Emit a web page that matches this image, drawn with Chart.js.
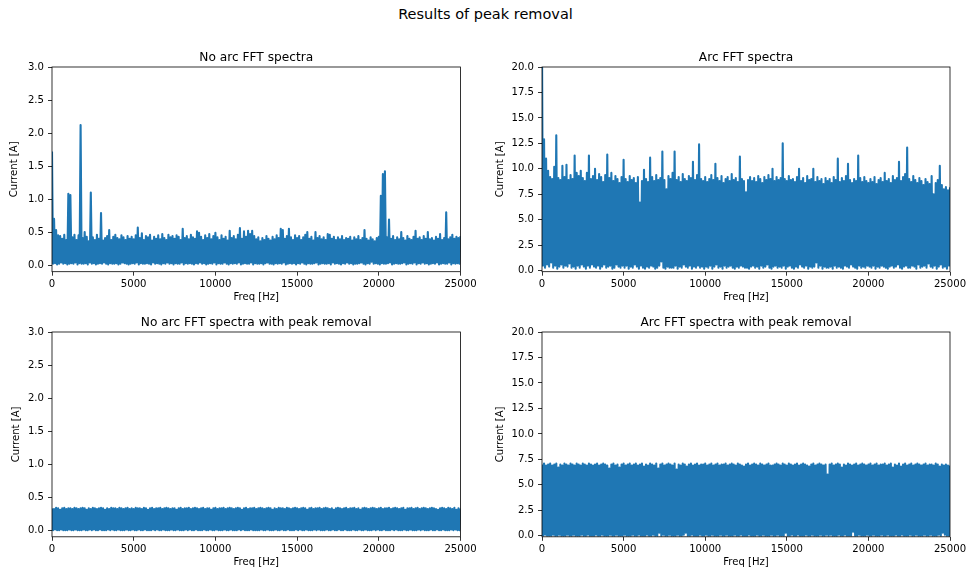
<!DOCTYPE html>
<html>
<head>
<meta charset="utf-8">
<title>Results of peak removal</title>
<script src="https://cdn.jsdelivr.net/npm/chart.js@4.4.1/dist/chart.umd.min.js"></script>
<style>
  html, body { margin:0; padding:0; overflow:hidden; background:#fff; }
  body { position:relative; width:971px; height:572px; font-family:"DejaVu Sans", sans-serif; }
  #suptitle { position:absolute; left:0; top:6px; width:971px; text-align:center; font-size:14.5px; color:#000; }
  canvas { position:absolute; }
</style>
</head>
<body>
<div id="suptitle">Results of peak removal</div>
<canvas id="c-noarc"></canvas>
<canvas id="c-arc"></canvas>
<canvas id="c-noarc-clean"></canvas>
<canvas id="c-arc-clean"></canvas>
<script>
// ═══════════════════════════════════════════════════════
//  FFT spectra before / after peak removal
// ═══════════════════════════════════════════════════════

const BIN_HZ = 125;                    // spacing of the spectrum bins
const X_TICKS = [0, 5000, 10000, 15000, 20000, 25000];
const Y_TICKS_NOARC = [0, 0.5, 1, 1.5, 2, 2.5, 3];
const Y_TICKS_ARC   = [0, 2.5, 5, 7.5, 10, 12.5, 15, 17.5, 20];

// Each bin: peak amplitude (…_TOP) and trough amplitude (…_BOTTOM)

// ── No arc, raw ─────────────────────────────────────────
const NOARC_TOP = [
  1.72,0.70,0.53,0.45,0.44,0.40,0.46,0.38,1.08,1.06,0.42,0.46,0.38,0.45,2.12,0.41,0.50,0.43,0.36,1.10,
  0.42,0.38,0.46,0.40,0.79,0.37,0.41,0.44,0.53,0.38,0.43,0.46,0.41,0.39,0.45,0.42,0.38,0.44,0.40,0.43,
  0.39,0.45,0.57,0.41,0.48,0.38,0.44,0.42,0.46,0.37,0.43,0.40,0.45,0.39,0.47,0.41,0.38,0.46,0.42,0.44,
  0.40,0.45,0.43,0.38,0.55,0.41,0.44,0.39,0.46,0.42,0.40,0.51,0.49,0.43,0.38,0.45,0.41,0.47,0.39,0.44,
  0.49,0.42,0.38,0.45,0.40,0.43,0.37,0.52,0.41,0.44,0.39,0.46,0.56,0.40,0.51,0.43,0.52,0.47,0.52,0.44,
  0.39,0.42,0.36,0.41,0.38,0.44,0.40,0.37,0.43,0.39,0.45,0.41,0.55,0.53,0.40,0.44,0.55,0.42,0.38,0.45,
  0.41,0.44,0.38,0.42,0.46,0.50,0.40,0.43,0.37,0.50,0.41,0.44,0.39,0.42,0.38,0.47,0.46,0.40,0.43,0.38,
  0.42,0.39,0.44,0.38,0.41,0.40,0.43,0.37,0.42,0.39,0.44,0.38,0.41,0.53,0.40,0.37,0.42,0.39,0.36,0.41,
  0.43,1.05,1.38,1.42,0.42,0.69,0.40,0.44,0.38,0.42,0.39,0.50,0.41,0.37,0.44,0.40,0.38,0.43,0.52,0.40,
  0.42,0.38,0.44,0.40,0.50,0.39,0.41,0.37,0.43,0.40,0.47,0.38,0.41,0.80,0.39,0.42,0.46,0.40,0.43,0.41,
  0.44
];
const NOARC_BOTTOM = [
  0.02,0.03,0.01,0.02,0.04,0.02,0.03,0.01,0.02,0.03,0.02,0.04,0.01,0.03,0.02,0.02,0.03,0.01,0.04,0.02,
  0.03,0.01,0.02,0.03,0.02,0.04,0.02,0.01,0.03,0.02,0.02,0.03,0.01,0.02,0.04,0.03,0.02,0.01,0.02,0.03,
  0.02,0.04,0.01,0.03,0.02,0.02,0.03,0.02,0.01,0.04,0.02,0.03,0.02,0.01,0.03,0.02,0.04,0.02,0.03,0.01,
  0.03,0.02,0.02,0.04,0.01,0.03,0.02,0.03,0.02,0.01,0.03,0.02,0.04,0.02,0.03,0.01,0.02,0.03,0.02,0.04,
  0.01,0.03,0.02,0.02,0.04,0.02,0.01,0.03,0.02,0.03,0.02,0.04,0.01,0.02,0.03,0.02,0.02,0.04,0.01,0.03,
  0.02,0.02,0.03,0.01,0.03,0.04,0.02,0.02,0.01,0.03,0.02,0.03,0.02,0.04,0.01,0.02,0.03,0.02,0.03,0.01,
  0.03,0.02,0.04,0.02,0.01,0.03,0.02,0.02,0.03,0.04,0.01,0.02,0.03,0.02,0.02,0.03,0.01,0.04,0.02,0.03,
  0.02,0.01,0.03,0.02,0.04,0.02,0.03,0.01,0.02,0.02,0.03,0.04,0.02,0.01,0.03,0.02,0.05,0.02,0.03,0.02,
  0.01,0.03,0.02,0.02,0.03,0.04,0.01,0.02,0.03,0.02,0.02,0.03,0.04,0.01,0.02,0.03,0.02,0.04,0.01,0.03,
  0.02,0.04,0.02,0.03,0.01,0.02,0.03,0.02,0.04,0.01,0.02,0.03,0.02,0.02,0.04,0.01,0.03,0.02,0.03,0.02
];

// ── Arc, raw ────────────────────────────────────────────
const ARC_TOP = [
  22.0,12.9,11.0,9.8,9.2,9.0,10.2,13.3,9.1,8.9,10.3,9.2,10.4,8.9,9.4,9.0,11.3,9.6,9.3,9.8,
  9.1,8.8,9.6,11.3,9.0,9.3,10.0,8.9,9.5,9.2,8.7,9.4,11.4,9.1,9.6,8.8,9.3,9.0,8.6,9.2,
  10.9,9.0,8.7,9.3,8.9,9.1,8.6,9.2,6.7,8.8,9.9,9.0,8.7,11.1,9.2,8.8,9.4,8.9,9.1,11.7,
  8.9,8.0,9.3,9.0,9.6,11.7,8.9,9.2,8.7,9.5,9.0,8.8,9.3,9.1,10.7,8.9,9.4,12.4,9.0,8.8,
  9.2,8.7,9.0,9.4,8.9,10.5,9.1,8.8,9.3,8.6,9.0,9.2,8.8,9.5,8.9,9.1,8.7,11.2,9.0,8.8,
  7.7,8.9,9.2,8.8,9.1,8.7,9.3,9.0,8.6,9.2,8.9,9.4,9.0,10.0,8.8,9.2,8.9,9.1,12.5,9.0,
  8.8,9.3,8.9,9.0,8.7,9.2,10.0,8.8,9.1,8.6,9.3,8.9,9.0,10.0,8.7,9.2,8.8,9.0,8.5,9.1,
  8.8,9.0,8.6,9.2,8.9,11.0,8.7,9.1,8.8,9.3,10.5,8.9,8.6,9.0,8.8,11.3,9.1,8.7,9.2,8.8,
  8.6,9.0,8.7,9.2,8.5,8.9,9.1,8.7,9.6,8.8,9.0,8.6,9.3,8.9,9.1,10.7,8.8,9.2,9.5,12.1,
  9.0,8.7,9.3,8.9,8.6,9.1,8.8,8.4,9.0,8.7,8.5,9.3,7.5,8.6,8.9,10.3,8.4,8.0,8.2,7.9,
  8.2
];
const ARC_BOTTOM = [
  0.5,0.3,0.6,0.4,0.8,0.3,0.5,0.2,0.4,0.6,0.3,0.5,0.4,0.7,0.3,0.4,0.2,0.5,0.3,0.6,
  0.4,0.2,0.5,0.3,0.6,0.4,0.3,0.5,0.2,0.4,0.6,0.3,0.4,0.5,0.2,0.3,0.6,0.4,0.3,0.5,
  0.3,0.5,0.2,0.4,0.3,0.6,0.4,0.2,0.5,0.3,0.2,0.4,0.3,0.5,0.4,0.2,0.3,0.5,0.9,0.3,
  0.2,0.4,0.3,0.3,0.3,0.5,0.2,0.4,0.3,0.6,0.4,0.3,0.5,0.2,0.4,0.3,0.5,0.3,0.4,0.2,
  0.4,0.3,0.5,0.2,0.4,0.6,0.3,0.4,0.2,0.5,0.3,0.4,0.5,0.3,0.2,0.4,0.3,0.5,0.4,0.3,
  0.3,0.2,0.4,0.5,0.3,0.4,0.2,0.5,0.3,0.4,0.6,0.3,0.2,0.4,0.5,0.3,0.4,0.3,0.5,0.2,
  0.4,0.5,0.3,0.2,0.4,0.3,0.6,0.4,0.3,0.5,0.2,0.4,0.3,0.4,0.8,0.3,0.5,0.2,0.4,0.3,
  0.3,0.4,0.2,0.5,0.3,0.4,0.3,0.2,0.5,0.4,0.3,0.6,0.4,0.3,0.2,0.5,0.3,0.4,0.3,0.5,
  0.4,0.3,0.5,0.2,0.4,0.3,0.5,0.4,0.3,0.2,0.4,0.5,0.3,0.4,0.6,0.3,0.2,0.4,0.5,0.3,
  0.3,0.5,0.4,0.2,0.6,0.3,0.4,0.5,0.3,0.7,0.4,0.3,0.5,0.2,0.4,0.6,0.3,0.4,0.2,0.5
];

// ── No arc, peaks removed ───────────────────────────────
const NOARC_CLEAN_TOP = [
  0.33,0.32,0.34,0.33,0.31,0.33,0.34,0.32,0.33,0.33,0.32,0.34,0.33,0.32,0.33,0.34,0.33,0.31,0.33,0.32,
  0.34,0.33,0.32,0.33,0.34,0.33,0.31,0.33,0.32,0.34,0.33,0.33,0.32,0.34,0.33,0.32,0.33,0.34,0.32,0.33,
  0.32,0.34,0.33,0.33,0.32,0.34,0.33,0.31,0.33,0.34,0.32,0.33,0.33,0.34,0.32,0.33,0.34,0.33,0.32,0.33,
  0.33,0.31,0.33,0.34,0.32,0.33,0.33,0.34,0.32,0.33,0.34,0.33,0.32,0.33,0.34,0.32,0.33,0.33,0.31,0.33,
  0.34,0.32,0.33,0.33,0.34,0.32,0.33,0.34,0.33,0.32,0.33,0.34,0.33,0.31,0.33,0.34,0.32,0.33,0.33,0.34,
  0.32,0.33,0.34,0.33,0.32,0.33,0.34,0.33,0.31,0.33,0.32,0.34,0.33,0.33,0.32,0.34,0.33,0.32,0.33,0.34,
  0.33,0.32,0.33,0.34,0.33,0.31,0.33,0.34,0.32,0.33,0.33,0.34,0.32,0.33,0.34,0.33,0.32,0.33,0.31,0.33,
  0.34,0.33,0.32,0.33,0.34,0.32,0.33,0.33,0.34,0.32,0.33,0.31,0.33,0.34,0.33,0.32,0.33,0.34,0.33,0.32,
  0.33,0.34,0.32,0.33,0.33,0.34,0.32,0.33,0.34,0.33,0.32,0.33,0.34,0.31,0.33,0.33,0.34,0.32,0.33,0.34,
  0.32,0.33,0.34,0.33,0.32,0.33,0.34,0.33,0.32,0.31,0.33,0.34,0.33,0.32,0.34,0.33,0.32,0.34,0.31,0.33,
  0.33
];
const NOARC_CLEAN_BOTTOM = [
  0.00,0.01,0.00,0.00,0.01,0.00,0.00,0.00,0.01,0.00,0.00,0.01,0.00,0.00,0.00,0.01,0.00,0.00,0.01,0.00,
  0.01,0.00,0.00,0.01,0.00,0.00,0.00,0.01,0.00,0.01,0.00,0.00,0.01,0.00,0.00,0.00,0.01,0.00,0.00,0.01,
  0.00,0.00,0.01,0.00,0.00,0.01,0.00,0.00,0.00,0.01,0.00,0.01,0.00,0.00,0.01,0.00,0.00,0.00,0.01,0.00,
  0.00,0.01,0.00,0.00,0.00,0.01,0.00,0.01,0.00,0.00,0.01,0.00,0.00,0.00,0.01,0.00,0.00,0.01,0.00,0.00,
  0.01,0.00,0.00,0.00,0.01,0.00,0.00,0.01,0.00,0.00,0.00,0.01,0.00,0.01,0.00,0.00,0.00,0.01,0.00,0.00,
  0.00,0.00,0.01,0.00,0.00,0.01,0.00,0.00,0.00,0.01,0.00,0.00,0.01,0.00,0.00,0.01,0.00,0.00,0.00,0.01,
  0.00,0.01,0.00,0.00,0.01,0.00,0.00,0.00,0.01,0.00,0.01,0.00,0.00,0.00,0.01,0.00,0.00,0.01,0.00,0.00,
  0.01,0.00,0.00,0.01,0.00,0.00,0.00,0.01,0.00,0.00,0.01,0.00,0.00,0.01,0.00,0.00,0.00,0.01,0.00,0.01,
  0.00,0.00,0.01,0.00,0.00,0.00,0.01,0.00,0.01,0.00,0.00,0.00,0.01,0.00,0.00,0.01,0.00,0.00,0.00,0.01,
  0.00,0.01,0.00,0.00,0.00,0.01,0.00,0.00,0.01,0.00,0.00,0.01,0.00,0.00,0.00,0.01,0.00,0.01,0.00,0.00
];

// ── Arc, peaks removed ──────────────────────────────────
const ARC_CLEAN_TOP = [
  7.0,7.1,6.9,7.0,7.1,6.9,7.0,7.1,6.7,7.0,6.9,7.1,7.0,6.9,7.1,7.0,6.9,7.1,7.0,6.9,
  7.1,7.0,6.9,7.1,7.0,6.9,7.0,7.1,6.9,7.0,7.1,7.0,6.9,6.6,7.0,7.1,6.9,7.0,6.7,7.0,
  7.1,6.9,7.0,7.1,6.9,7.0,7.1,6.9,7.0,7.1,6.8,7.0,6.9,7.1,7.0,6.9,7.1,6.6,7.0,7.1,
  6.9,7.0,7.1,7.0,6.9,7.1,6.5,7.0,6.9,7.1,7.0,6.8,7.0,7.1,6.9,7.0,7.1,6.9,7.0,7.0,
  7.1,6.9,7.0,7.1,6.9,7.0,7.1,6.9,7.0,7.0,7.1,6.9,7.0,7.1,7.0,6.9,7.1,7.0,6.9,6.8,
  7.0,7.1,6.9,7.0,7.1,7.0,6.9,7.1,7.0,6.9,7.0,7.1,6.9,6.9,7.0,7.1,7.0,6.9,7.1,7.0,
  6.9,7.1,7.0,6.9,7.0,7.1,6.9,7.0,7.1,7.0,6.9,6.8,7.0,7.1,6.9,7.0,7.1,7.0,6.9,7.0,
  6.0,7.0,7.1,6.9,7.0,7.1,7.0,6.7,7.0,6.9,7.1,7.0,6.9,7.0,7.1,6.9,7.0,7.1,7.0,6.9,
  7.0,7.1,6.9,7.0,7.1,6.9,7.0,7.0,7.1,6.9,7.0,7.1,6.7,7.0,6.9,7.1,6.8,7.0,7.1,6.9,
  7.0,7.1,6.9,7.0,7.1,7.0,6.9,7.0,7.1,6.9,7.0,7.0,6.9,7.1,7.0,6.8,7.0,6.9,7.0,6.9,
  6.9
];
const ARC_CLEAN_BOTTOM = [
  0.0,0.1,0.0,0.0,0.0,0.1,0.0,0.0,0.1,0.0,0.0,0.0,0.1,0.0,0.0,0.1,0.0,0.0,0.0,0.1,
  0.0,0.0,0.1,0.0,0.0,0.0,0.1,0.0,0.0,0.1,0.0,0.0,0.0,0.1,0.0,0.0,0.1,0.0,0.0,0.0,
  0.1,0.0,0.0,0.0,0.1,0.0,0.0,0.1,0.0,0.0,0.0,0.1,0.0,0.0,0.1,0.0,0.0,0.3,0.0,0.1,
  0.0,0.0,0.1,0.0,0.0,0.0,0.1,0.0,0.0,0.1,0.3,0.0,0.0,0.1,0.0,0.0,0.0,0.1,0.0,0.0,
  0.1,0.0,0.0,0.1,0.0,0.0,0.0,0.1,0.0,0.0,0.1,0.0,0.0,0.0,0.1,0.0,0.0,0.1,0.0,0.0,
  0.0,0.1,0.0,0.0,0.0,0.1,0.0,0.0,0.1,0.0,0.0,0.0,0.1,0.0,0.0,0.1,0.0,0.0,0.0,0.3,
  0.0,0.0,0.1,0.0,0.0,0.1,0.0,0.0,0.0,0.1,0.0,0.0,0.1,0.0,0.0,0.0,0.1,0.0,0.0,0.1,
  0.0,0.1,0.0,0.0,0.0,0.1,0.0,0.0,0.1,0.0,0.0,0.0,0.4,0.0,0.0,0.1,0.0,0.0,0.0,0.1,
  0.0,0.0,0.1,0.0,0.0,0.0,0.1,0.0,0.0,0.1,0.0,0.0,0.0,0.1,0.0,0.0,0.1,0.0,0.0,0.0,
  0.1,0.0,0.0,0.1,0.0,0.0,0.0,0.1,0.0,0.0,0.1,0.0,0.0,0.0,0.1,0.0,0.3,0.1,0.0,0.0
];

// ── Panel layout (plot-area corners in page pixels) ─────
const PANELS = [
  { id:"c-noarc",       title:"No arc FFT spectra",                 top:NOARC_TOP,       bottom:NOARC_BOTTOM,       yTicks:Y_TICKS_NOARC, yMax:3,  box:[52, 67.3, 460.5, 272],   canvasLeft:0,   yTitlePad:8.5 },
  { id:"c-arc",         title:"Arc FFT spectra",                    top:ARC_TOP,         bottom:ARC_BOTTOM,         yTicks:Y_TICKS_ARC,   yMax:20, box:[542, 67.3, 950, 272],    canvasLeft:486, yTitlePad:8 },
  { id:"c-noarc-clean", title:"No arc FFT spectra with peak removal", top:NOARC_CLEAN_TOP, bottom:NOARC_CLEAN_BOTTOM, yTicks:Y_TICKS_NOARC, yMax:3,  box:[52, 331.7, 460.5, 536.5], canvasLeft:0,   yTitlePad:10.5 },
  { id:"c-arc-clean",   title:"Arc FFT spectra with peak removal",  top:ARC_CLEAN_TOP,   bottom:ARC_CLEAN_BOTTOM,   yTicks:Y_TICKS_ARC,   yMax:20, box:[542, 331.7, 950, 536.5], canvasLeft:486, yTitlePad:8 },
];

const TITLE_GAP = 27;   // canvas space above the plot area
const XAXIS_H   = 38;   // canvas space below the plot area
const SMALL = { family:"DejaVu Sans", size:10.1 };

// ── Peak / trough pairs → one continuous trace ──────────
function buildTrace(tops, bottoms) {
  const pts = [];
  tops.forEach((v, i) => {
    pts.push({ x: i * BIN_HZ, y: v });
    if (i < bottoms.length) pts.push({ x: i * BIN_HZ + BIN_HZ / 2, y: bottoms[i] });
  });
  return pts;
}

// ── Axes frame + subplot title ──────────────────────────
const framePlugin = {
  id: "frame",
  afterDraw(chart, args, opts) {
    const { ctx, chartArea: a } = chart;
    ctx.save();
    ctx.strokeStyle = "#000";
    ctx.lineWidth = 0.8;
    ctx.strokeRect(a.left, a.top, a.right - a.left, a.bottom - a.top);
    ctx.fillStyle = "#000";
    ctx.font = '12.2px "DejaVu Sans"';
    ctx.textAlign = "center";
    ctx.textBaseline = "alphabetic";
    ctx.fillText(opts.title, (a.left + a.right) / 2, a.top - 6.3);
    ctx.restore();
  }
};

function drawPanel(p) {
  const [x0, y0, x1, y1] = p.box;
  const canvas = document.getElementById(p.id);
  const top = y0 - TITLE_GAP;
  const w = Math.ceil(x1 - p.canvasLeft + 22);
  const h = Math.ceil(y1 + XAXIS_H - top);
  canvas.width = w; canvas.height = h;
  canvas.style.left = p.canvasLeft + "px";
  canvas.style.top = top + "px";
  canvas.style.width = w + "px";
  canvas.style.height = h + "px";

  const tickGrid = { drawOnChartArea:false, drawTicks:true, tickLength:4, color:"#000", lineWidth:0.8 };

  new Chart(canvas.getContext("2d"), {
    type: "line",
    data: { datasets: [{
      data: buildTrace(p.top, p.bottom),
      borderColor: "#1f77b4", borderWidth: 2.1,
      borderJoinStyle: "round", pointRadius: 0, tension: 0, fill: false, clip: 0
    }] },
    options: {
      responsive: false, animation: false, events: [],
      layout: { padding: { top: TITLE_GAP, right: w - (x1 - p.canvasLeft), left: 0, bottom: h - XAXIS_H - (y1 - top) } },
      plugins: { legend:{ display:false }, tooltip:{ enabled:false }, frame:{ title:p.title } },
      scales: {
        x: {
          type: "linear", min: 0, max: 25000,
          afterBuildTicks: s => { s.ticks = X_TICKS.map(v => ({ value: v })); },
          afterFit: s => { s.height = XAXIS_H; },
          ticks: { color:"#000", font:SMALL, padding:2.5, maxRotation:0, autoSkip:false, callback: v => String(v) },
          grid: tickGrid, border: { display:false },
          title: { display:true, text:"Freq [Hz]", color:"#000", font:SMALL, padding:{ top:0, bottom:6.5 } }
        },
        y: {
          type: "linear", min: -0.1, max: p.yMax,
          afterBuildTicks: s => { s.ticks = p.yTicks.map(v => ({ value: v })); },
          afterFit: s => { s.width = x0 - p.canvasLeft; },
          ticks: { color:"#000", font:SMALL, padding:4, autoSkip:false, callback: v => Number(v).toFixed(1) },
          grid: tickGrid, border: { display:false },
          title: { display:true, text:"Current [A]", color:"#000", font:SMALL, padding:{ top:p.yTitlePad, bottom:0 } }
        }
      }
    },
    plugins: [framePlugin]
  });
}

PANELS.forEach(drawPanel);
</script>
</body>
</html>
